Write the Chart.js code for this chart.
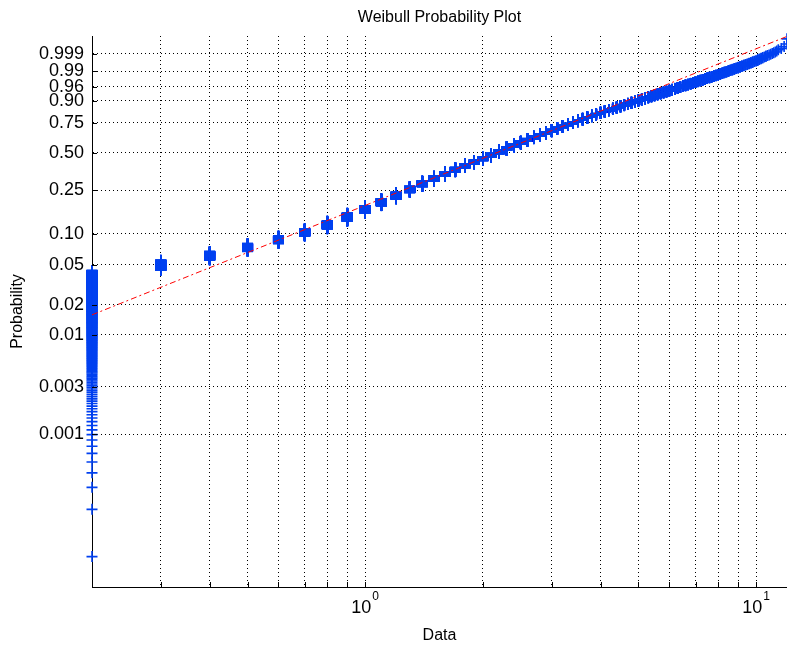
<!DOCTYPE html>
<html lang="en">
<head>
<meta charset="UTF-8">
<title>Weibull Probability Plot</title>
<script src="https://cdn.jsdelivr.net/npm/chart.js"></script>
<style>
  body { margin: 0; background: #fff; }
  #plot { display: block; }
</style>
</head>
<body>
<canvas id="plot" width="787" height="649"></canvas>
<script>
// measured values (0.1 resolution) and how many samples share each value
const dataValues = [
  0.2, 0.3, 0.4, 0.5, 0.6, 0.7, 0.8, 0.9, 1.0, 1.1,
  1.2, 1.3, 1.4, 1.5, 1.6, 1.7, 1.8, 1.9, 2.0, 2.1,
  2.2, 2.3, 2.4, 2.5, 2.6, 2.7, 2.8, 2.9, 3.0, 3.1,
  3.2, 3.3, 3.4, 3.5, 3.6, 3.7, 3.8, 3.9, 4.0, 4.1,
  4.2, 4.3, 4.4, 4.5, 4.6, 4.7, 4.8, 4.9, 5.0, 5.1,
  5.2, 5.3, 5.4, 5.5, 5.6, 5.7, 5.8, 5.9, 6.0, 6.1,
  6.2, 6.3, 6.4, 6.5, 6.6, 6.7, 6.8, 6.9, 7.0, 7.1,
  7.2, 7.3, 7.4, 7.5, 7.6, 7.7, 7.8, 7.9, 8.0, 8.1,
  8.2, 8.3, 8.4, 8.5, 8.6, 8.7, 8.8, 8.9, 9.0, 9.1,
  9.2, 9.3, 9.4, 9.5, 9.6, 9.7, 9.8, 9.9, 10.0, 10.1,
  10.2, 10.3, 10.4, 10.5, 10.6, 10.7, 10.8, 10.9, 11.0, 11.1,
  11.2, 11.3, 11.4, 11.5, 11.6, 11.7, 11.8, 11.9, 12.0
];
const tieCounts = [
  378, 99, 103, 112, 125, 142, 172, 210, 233, 240,
  254, 260, 258, 254, 249, 240, 229, 219, 211, 251,
  238, 224, 212, 201, 190, 180, 169, 161, 155, 151,
  142, 134, 126, 119, 113, 105, 100, 94, 88, 82,
  78, 73, 69, 65, 62, 58, 55, 51, 50, 47,
  45, 42, 40, 37, 36, 33, 31, 29, 29, 28,
  26, 24, 23, 21, 21, 18, 18, 17, 16, 15,
  14, 14, 12, 12, 11, 10, 9, 9, 9, 9,
  8, 8, 6, 7, 6, 6, 5, 4, 5, 5,
  4, 4, 3, 3, 3, 3, 3, 2, 2, 3,
  2, 2, 2, 1, 2, 1, 1, 1, 1, 1,
  1, 1, 1, 0, 1, 0, 1, 0, 2
];

// fitted weibull reference line
const fitScale = 2.74;
const fitShape = 1.58;
const fitRange = [0.2, 12.0];

// axes
const probTicks = [0.001, 0.003, 0.01, 0.02, 0.05, 0.10, 0.25, 0.50, 0.75, 0.90, 0.96, 0.99, 0.999];
const probTickLabels = ['0.001', '0.003', '0.01', '0.02', '0.05', '0.10', '0.25', '0.50', '0.75', '0.90', '0.96', '0.99', '0.999'];
const probLimits = [0.0000287, 0.99997];
const xGridValues = [0.3, 0.4, 0.5, 0.6, 0.7, 0.8, 0.9, 1, 2, 3, 4, 5, 6, 7, 8, 9, 10];
const xDecades = [1, 10];
const xDecadeExps = ['0', '1'];
const xLimits = [0.2, 12.0];

const chartTitle = 'Weibull Probability Plot';
const FONT = '"Liberation Sans", Arial, Helvetica, sans-serif';

// weibull probability paper: y = ln(-ln(1-p))
const weibullY = p => Math.log(-Math.log(1 - p));

const total = tieCounts.reduce((a, b) => a + b, 0);
const samplePoints = [];
let rank = 0;
dataValues.forEach((x, k) => {
  for (let j = 0; j < tieCounts[k]; j++) {
    rank++;
    samplePoints.push({ x: x, y: weibullY((rank - 0.5) / total) });
  }
});

const fitPoints = fitRange.map(x => ({
  x: x,
  y: weibullY(1 - Math.exp(-Math.pow(x / fitScale, fitShape)))
}));

// title, inward tick marks and 10^n labels the way matlab draws them
const matlabAxes = {
  id: 'matlabAxes',
  afterDraw(chart) {
    const { ctx, chartArea, scales } = chart;
    ctx.save();
    ctx.strokeStyle = '#000';
    ctx.lineWidth = 1;
    xGridValues.forEach(v => {
      const px = Math.round(scales.x.getPixelForValue(v)) + 0.5;
      ctx.beginPath();
      ctx.moveTo(px, chartArea.bottom);
      ctx.lineTo(px, chartArea.bottom - 5);
      ctx.stroke();
    });
    probTicks.forEach(p => {
      const py = Math.round(scales.y.getPixelForValue(weibullY(p))) + 0.5;
      ctx.beginPath();
      ctx.moveTo(chartArea.left, py);
      ctx.lineTo(chartArea.left + 5, py);
      ctx.stroke();
    });

    ctx.fillStyle = '#000';
    ctx.textBaseline = 'middle';
    ctx.textAlign = 'left';
    xDecades.forEach((d, i) => {
      const px = scales.x.getPixelForValue(d);
      ctx.font = '18px ' + FONT;
      const w1 = ctx.measureText('10').width;
      ctx.font = '12px ' + FONT;
      const w2 = ctx.measureText(xDecadeExps[i]).width;
      const left = px - (w1 + w2 + 1) / 2;
      ctx.font = '18px ' + FONT;
      ctx.fillText('10', left, chartArea.bottom + 21);
      ctx.font = '12px ' + FONT;
      ctx.fillText(xDecadeExps[i], left + w1 + 1, chartArea.bottom + 10);
    });

    ctx.font = '16px ' + FONT;
    ctx.textAlign = 'center';
    ctx.fillText(chartTitle, (chartArea.left + chartArea.right) / 2, 18);
    ctx.restore();
  }
};

Chart.defaults.color = '#000';
Chart.defaults.font.family = FONT;

new Chart(document.getElementById('plot'), {
  type: 'scatter',
  data: {
    datasets: [
      {
        type: 'line',
        label: 'fit',
        data: fitPoints,
        borderColor: '#ff0000',
        borderWidth: 1,
        borderDash: [6, 3, 2, 3],
        pointRadius: 0,
        fill: false
      },
      {
        label: 'Data',
        data: samplePoints,
        pointStyle: 'cross',
        pointRadius: 5.5,
        borderColor: '#0040f0',
        backgroundColor: '#0040f0',
        borderWidth: 1.6,
        showLine: false,
        clip: false
      }
    ]
  },
  options: {
    responsive: false,
    animation: false,
    events: [],
    layout: { autoPadding: false, padding: { top: 36, right: 0, bottom: 0, left: 0 } },
    plugins: {
      legend: { display: false },
      tooltip: { enabled: false },
      title: { display: false }
    },
    scales: {
      x: {
        type: 'logarithmic',
        min: xLimits[0],
        max: xLimits[1],
        afterBuildTicks: scale => { scale.ticks = xGridValues.map(v => ({ value: v })); },
        afterFit: scale => { scale.height = 62; },
        ticks: { display: false },
        grid: { color: '#000', lineWidth: 1, drawTicks: false },
        border: { color: '#000', width: 1, dash: [1, 3] },
        title: { display: true, text: 'Data', font: { size: 16 }, padding: { top: 0, bottom: 4 } }
      },
      y: {
        type: 'linear',
        min: weibullY(probLimits[0]),
        max: weibullY(probLimits[1]),
        afterBuildTicks: scale => { scale.ticks = probTicks.map(p => ({ value: weibullY(p) })); },
        afterFit: scale => { scale.width = 92; },
        ticks: {
          autoSkip: false,
          padding: 8,
          font: { size: 18 },
          callback: (value, index) => probTickLabels[index]
        },
        grid: { color: '#000', lineWidth: 1, drawTicks: false },
        border: { color: '#000', width: 1, dash: [1, 3] },
        title: { display: true, text: 'Probability', font: { size: 16 }, padding: { top: 8, bottom: 0 } }
      }
    }
  },
  plugins: [matlabAxes]
});
</script>
</body>
</html>
